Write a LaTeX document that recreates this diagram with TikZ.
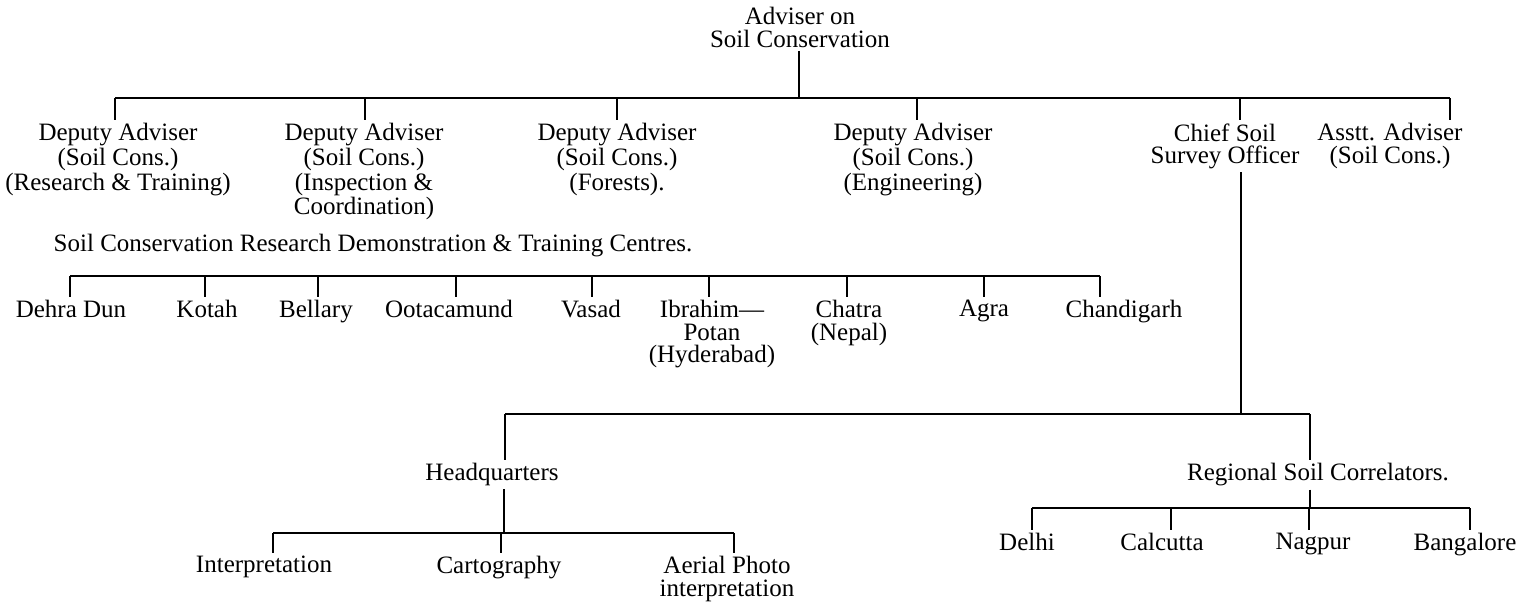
\documentclass[tikz,border=0pt]{standalone}
\usepackage{fontspec}
\setmainfont{Liberation Serif}
\begin{document}
\begin{tikzpicture}[x=0.5pt,y=-0.5pt,
  lbl/.style={font=\fontsize{12.5}{11.25}\selectfont, align=center, inner xsep=0pt, inner ysep=1.5pt, anchor=north},
  ln/.style={line width=0.9pt}]
\useasboundingbox (0,0) rectangle (1528,602);
% top
\node[lbl] (top) at (800,4) {Adviser on\\Soil Conservation};
% first row
\node[lbl] (d1) at (118,120) {Deputy Adviser\\(Soil Cons.)\\(Research \& Training)};
\node[lbl] (d2) at (364,120) {Deputy Adviser\\(Soil Cons.)\\(Inspection \&\\Coordination)};
\node[lbl] (d3) at (617,120) {Deputy Adviser\\(Soil Cons.)\\(Forests).};
\node[lbl] (d4) at (913,120) {Deputy Adviser\\(Soil Cons.)\\(Engineering)};
\node[lbl] (chief) at (1225,120) {Chief Soil\\Survey Officer};
\node[lbl] (asst) at (1390,120) {Asstt. Adviser\\(Soil Cons.)};
% centres
\node[lbl] (ctitle) at (373,231) {Soil Conservation Research Demonstration \& Training Centres.};
\node[lbl] (c1) at (71,297) {Dehra Dun};
\node[lbl] (c2) at (207,297) {Kotah};
\node[lbl] (c3) at (316,297) {Bellary};
\node[lbl] (c4) at (449,297) {Ootacamund};
\node[lbl] (c5) at (591,297) {Vasad};
\node[lbl] (c6) at (712,297) {Ibrahim—\\Potan\\(Hyderabad)};
\node[lbl] (c7) at (849,297) {Chatra\\(Nepal)};
\node[lbl] (c8) at (984,297) {Agra};
\node[lbl] (c9) at (1124,297) {Chandigarh};
% lower part
\node[lbl] (hq) at (492,460) {Headquarters};
\node[lbl] (reg) at (1318,460) {Regional Soil Correlators.};
\node[lbl] (h1) at (264,553) {Interpretation};
\node[lbl] (h2) at (499,553) {Cartography};
\node[lbl] (h3) at (727,553) {Aerial Photo\\interpretation};
\node[lbl] (r1) at (1027,530) {Delhi};
\node[lbl] (r2) at (1162,530) {Calcutta};
\node[lbl] (r3) at (1313,530) {Nagpur};
\node[lbl] (r4) at (1465,530) {Bangalore};

% top bus
\coordinate (tv) at (799,98);
\draw[ln] (tv |- top.south) -- (tv);
\coordinate (tb1) at (115,98);
\coordinate (tb2) at (365,98);
\coordinate (tb3) at (617,98);
\coordinate (tb4) at (917,98);
\coordinate (tb5) at (1240,98);
\coordinate (tb6) at (1450,98);
\draw[ln] (tb1) -- (tb6);
\draw[ln] (tb1) -- (tb1 |- d1.north);
\draw[ln] (tb2) -- (tb2 |- d2.north);
\draw[ln] (tb3) -- (tb3 |- d3.north);
\draw[ln] (tb4) -- (tb4 |- d4.north);
\draw[ln] (tb5) -- (tb5 |- chief.north);
\draw[ln] (tb6) -- (tb6 |- asst.north);

% centres bus
\coordinate (cb1) at (70,276);
\coordinate (cb2) at (205,276);
\coordinate (cb3) at (318,276);
\coordinate (cb4) at (456,276);
\coordinate (cb5) at (592,276);
\coordinate (cb6) at (709,276);
\coordinate (cb7) at (847,276);
\coordinate (cb8) at (984,276);
\coordinate (cb9) at (1100,276);
\draw[ln] (cb1) -- (cb9);
\foreach \i in {1,...,9} {\draw[ln] (cb\i) -- (cb\i |- c\i.north);}

% chief down to lower bus
\coordinate (lv) at (1241,414);
\draw[ln] (lv |- chief.south) -- (lv);
\coordinate (lb1) at (505,414);
\coordinate (lb2) at (1310,414);
\draw[ln] (lb1) -- (lb2);
\draw[ln] (lb1) -- (lb1 |- hq.north);
\draw[ln] (lb2) -- (lb2 |- reg.north);

% headquarters bus
\coordinate (hv) at (504,533);
\draw[ln] (hv |- hq.south) -- (hv);
\coordinate (hb1) at (273,533);
\coordinate (hb2) at (501,533);
\coordinate (hb3) at (734,533);
\draw[ln] (hb1) -- (hb3);
\draw[ln] (hb1) -- (hb1 |- h1.north);
\draw[ln] (hb2) -- (hb2 |- h2.north);
\draw[ln] (hb3) -- (hb3 |- h3.north);

% regional bus
\coordinate (rv) at (1310,508);
\draw[ln] (rv |- reg.south) -- (rv);
\coordinate (rb1) at (1032,508);
\coordinate (rb2) at (1171,508);
\coordinate (rb3) at (1309,508);
\coordinate (rb4) at (1470,508);
\draw[ln] (rb1) -- (rb4);
\foreach \i in {1,...,4} {\draw[ln] (rb\i) -- (rb\i |- r\i.north);}
\end{tikzpicture}
\end{document}
